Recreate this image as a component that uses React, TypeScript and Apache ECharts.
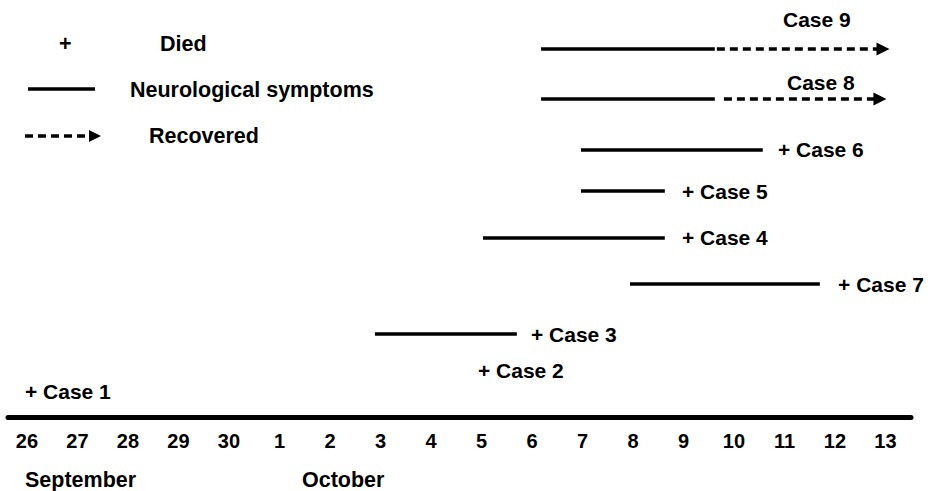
import React, { useEffect, useRef } from "react";
import * as echarts from "echarts";

// Day ticks: index 0 = 26 September ... index 17 = 13 October
const dayLabels = ["26", "27", "28", "29", "30", "1", "2", "3", "4", "5", "6", "7", "8", "9", "10", "11", "12", "13"];
const dayTicks = [0, 1, 2, 3, 4, 5, 6, 7, 8, 9, 10, 11, 12, 13, 14, 15, 16, 17];
const monthLabels = ["September", "October"];

// Cases (top to bottom)
const caseNames = ["Case 9", "Case 8", "Case 6", "Case 5", "Case 4", "Case 7", "Case 3", "Case 2", "Case 1"];
const rowLevel = [7.36, 6.36, 5.35, 4.53, 3.59, 2.67, 1.67, 0.93, 0.51];
const symptomStart = [10.18, 10.18, 10.97, 10.97, 9.03, 11.94, 6.89, null, null];
const symptomEnd = [13.62, 13.62, 14.57, 12.63, 12.63, 15.7, 9.7, null, null];
const recoveryStart = [13.66, 13.8, null, null, null, null, null, null, null];
const recoveryEnd = [16.95, 16.89, null, null, null, null, null, null, null];
const died = [false, false, true, true, true, true, true, true, true];
const labelDay = [14.97, 15.05, 14.87, 12.97, 12.97, 16.06, 9.98, 8.93, -0.04];
const labelLevel = [7.95, 6.69, 5.35, 4.52, 3.59, 2.66, 1.65, 0.93, 0.51];

const legendItems = ["Died", "Neurological symptoms", "Recovered"];

const FONT = "'Liberation Sans', Arial, Helvetica, sans-serif";

export default function App() {
  const ref = useRef<HTMLDivElement>(null);
  useEffect(() => {
    if (!ref.current) return;
    const chart = echarts.init(ref.current, null, { renderer: "svg" });

    const solidData: any[] = [];
    const dashedData: any[] = [];
    const labelData: any[] = [];
    caseNames.forEach((name, i) => {
      if (symptomStart[i] != null && symptomEnd[i] != null) {
        solidData.push({ coords: [[symptomStart[i], rowLevel[i]], [symptomEnd[i], rowLevel[i]]] });
      }
      if (recoveryStart[i] != null && recoveryEnd[i] != null) {
        dashedData.push({ coords: [[recoveryStart[i], rowLevel[i]], [recoveryEnd[i], rowLevel[i]]] });
      }
      labelData.push({ name: (died[i] ? "+ " : "") + name, value: [labelDay[i], labelLevel[i]] });
    });

    const textStyle = { fill: "#000", font: `bold 21.5px ${FONT}` };

    chart.setOption({
      animation: false,
      grid: { left: 8, right: 19, top: 0, bottom: 74, containLabel: false },
      xAxis: {
        type: "value",
        min: -0.3762,
        max: 17.505,
        axisLine: { show: true, lineStyle: { color: "#000", width: 5 } },
        axisTick: { show: false },
        splitLine: { show: false },
        axisLabel: {
          customValues: dayTicks,
          formatter: (v: number) => dayLabels[Math.round(v)] ?? "",
          color: "#000",
          fontWeight: "bold",
          fontSize: 20,
          fontFamily: FONT,
          margin: 14,
        },
      },
      yAxis: { type: "value", min: 0, max: 8.34, show: false },
      series: [
        {
          type: "lines",
          coordinateSystem: "cartesian2d",
          symbol: "none",
          lineStyle: { color: "#000", width: 3.5, opacity: 1 },
          data: solidData,
        },
        {
          type: "lines",
          coordinateSystem: "cartesian2d",
          symbol: ["none", "triangle"],
          symbolSize: 13,
          itemStyle: { color: "#000" },
          lineStyle: { color: "#000", width: 3.5, type: [8, 5], opacity: 1 },
          data: dashedData,
        },
        {
          type: "scatter",
          symbolSize: 0,
          clip: false,
          itemStyle: { opacity: 1, color: "#000" },
          label: {
            show: true,
            position: "right",
            distance: 0,
            formatter: (p: any) => p.name,
            color: "#000",
            opacity: 1,
            fontWeight: "bold",
            fontSize: 21,
            fontFamily: FONT,
          },
          emphasis: { disabled: true },
          data: labelData,
        },
      ],
      graphic: [
        { type: "text", left: 59, top: 33, style: { ...textStyle, text: "+" } },
        { type: "text", left: 160, top: 33, style: { ...textStyle, text: legendItems[0] } },
        { type: "line", shape: { x1: 28, y1: 89, x2: 95, y2: 89 }, style: { stroke: "#000", lineWidth: 3.5 } },
        { type: "text", left: 130, top: 79, style: { ...textStyle, text: legendItems[1] } },
        { type: "line", shape: { x1: 25, y1: 136, x2: 92, y2: 136 }, style: { stroke: "#000", lineWidth: 3.5, lineDash: [8, 5] } },
        { type: "polygon", shape: { points: [[89, 130], [101, 136], [89, 142]] }, style: { fill: "#000" } },
        { type: "text", left: 149, top: 125, style: { ...textStyle, text: legendItems[2] } },
        { type: "text", left: 25, top: 469, style: { ...textStyle, text: monthLabels[0] } },
        { type: "text", left: 302, top: 469, style: { ...textStyle, text: monthLabels[1] } },
      ],
    });
    return () => chart.dispose();
  }, []);
  return <div ref={ref} style={{ width: 930, height: 491, position: "absolute", left: 0, top: 0 }} />;
}
